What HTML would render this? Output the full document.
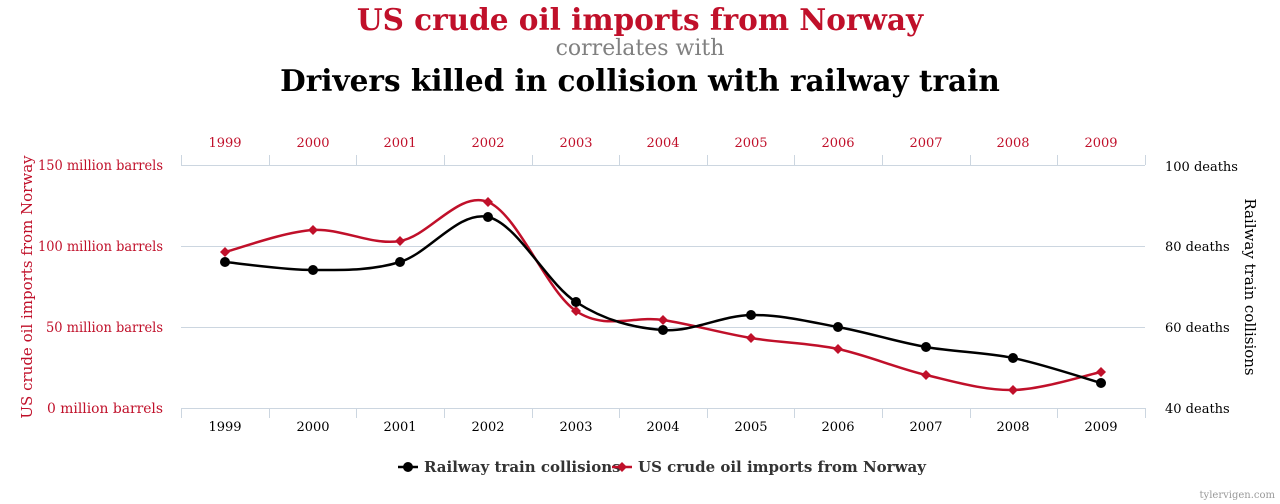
<!DOCTYPE html>
<html><head><meta charset="utf-8"><style>
html,body{margin:0;padding:0;background:#fff;width:1280px;height:504px;overflow:hidden}
text{font-family:"DejaVu Serif","Liberation Serif",serif}
</style></head><body>
<svg id="s" width="1280" height="504" xmlns="http://www.w3.org/2000/svg">
<text x="640" y="30" text-anchor="middle" font-size="29.5" font-weight="bold" fill="#c0102a">US crude oil imports from Norway</text>
<text x="640" y="55" text-anchor="middle" font-size="22" fill="#808080">correlates with</text>
<text x="640" y="91" text-anchor="middle" font-size="29.5" font-weight="bold" fill="#000">Drivers killed in collision with railway train</text>
<g stroke="#ccd6e0" stroke-width="1">
<line x1="181" y1="165.5" x2="1145" y2="165.5"/>
<line x1="181" y1="246.5" x2="1145" y2="246.5"/>
<line x1="181" y1="327.5" x2="1145" y2="327.5"/>
<line x1="181" y1="408.5" x2="1145" y2="408.5"/>
</g>
<g id="ticks" stroke="#ccd6e0" stroke-width="1"></g>
<g id="labels" font-size="13"></g>
<g font-size="14" fill="#c0102a" text-anchor="end">
<text x="163" y="170" textLength="125" lengthAdjust="spacingAndGlyphs">150 million barrels</text>
<text x="163" y="251" textLength="125" lengthAdjust="spacingAndGlyphs">100 million barrels</text>
<text x="163" y="332" textLength="117" lengthAdjust="spacingAndGlyphs">50 million barrels</text>
<text x="163" y="413" textLength="116" lengthAdjust="spacingAndGlyphs">0 million barrels</text>
</g>
<g font-size="13" fill="#000">
<text x="1165" y="171">100 deaths</text>
<text x="1165" y="251">80 deaths</text>
<text x="1165" y="332">60 deaths</text>
<text x="1165" y="413">40 deaths</text>
</g>
<text transform="translate(32,287) rotate(-90)" text-anchor="middle" font-size="15" fill="#c0102a">US crude oil imports from Norway</text>
<text transform="translate(1245,287) rotate(90)" text-anchor="middle" font-size="15" fill="#000">Railway train collisions</text>
<path id="red" fill="none" stroke="#c0102a" stroke-width="2.5"/>
<path id="blk" fill="none" stroke="#000" stroke-width="2.5"/>
<g id="mk"></g>
<g font-size="15" font-weight="bold" fill="#333">
<line x1="398" y1="467" x2="418" y2="467" stroke="#000" stroke-width="2.5"/>
<circle cx="408" cy="467" r="5" fill="#000"/>
<text x="424" y="472">Railway train collisions</text>
<line x1="612" y1="467" x2="632" y2="467" stroke="#c0102a" stroke-width="2.5"/>
<path d="M622 462 L627 467 L622 472 L617 467Z" fill="#c0102a"/>
<text x="638" y="472">US crude oil imports from Norway</text>
</g>
<text x="1275" y="498" text-anchor="end" font-size="10" fill="#999">tylervigen.com</text>
</svg>
<script>
var NS="http://www.w3.org/2000/svg";
var xs=[225,313,400,488,576,663,751,838,926,1013,1101];
var by=[262,270,262,217,302,330,315,327,347,358,383];
var ry=[252,230,241,202,311,320,338,349,375,390,372];
function el(t,a,p){var e=document.createElementNS(NS,t);for(var k in a)e.setAttribute(k,a[k]);if(p)p.appendChild(e);return e;}
var tk=document.getElementById('ticks'),lb=document.getElementById('labels'),mk=document.getElementById('mk');
for(var i=0;i<=11;i++){var x=181+i*87.64;x=Math.round(x)+0.5;
el('line',{x1:x,y1:155,x2:x,y2:165},tk);el('line',{x1:x,y1:408,x2:x,y2:418},tk);}
xs.forEach(function(x,i){var y=1999+i;
var a=el('text',{x:x,y:147,'text-anchor':'middle',fill:'#c0102a'},lb);a.textContent=y;
var b=el('text',{x:x,y:431,'text-anchor':'middle',fill:'#000'},lb);b.textContent=y;});
function path(ys){var d='M'+xs[0]+' '+ys[0];
for(var i=0;i<xs.length-1;i++){var p0=i>0?i-1:i,p3=i+2<xs.length?i+2:i+1;
var c1x=xs[i]+(xs[i+1]-xs[p0])/6,c1y=ys[i]+(ys[i+1]-ys[p0])/6;
var c2x=xs[i+1]-(xs[p3]-xs[i])/6,c2y=ys[i+1]-(ys[p3]-ys[i])/6;
d+=' C'+c1x+' '+c1y+' '+c2x+' '+c2y+' '+xs[i+1]+' '+ys[i+1];}return d;}
document.getElementById('red').setAttribute('d',path(ry));
document.getElementById('blk').setAttribute('d',path(by));
xs.forEach(function(x,i){el('path',{d:'M'+x+' '+(ry[i]-5)+' L'+(x+5)+' '+ry[i]+' L'+x+' '+(ry[i]+5)+' L'+(x-5)+' '+ry[i]+'Z',fill:'#c0102a'},mk);
el('circle',{cx:x,cy:by[i],r:5,fill:'#000'},mk);});
</script>
</body></html>
